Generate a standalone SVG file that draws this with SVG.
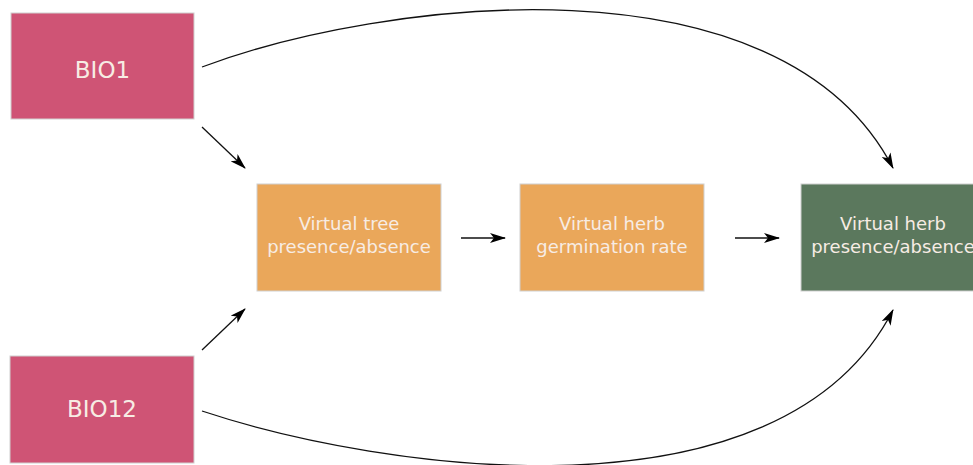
<svg xmlns="http://www.w3.org/2000/svg" width="973" height="465" viewBox="0 0 973 465">
<style>
.node rect{stroke:#d0d0d0;stroke-width:1}
.bio rect{fill:#cf5475}
.mid rect{fill:#eaa75a}
.out rect{fill:#5b785d}
text{font-family:"DejaVu Sans",sans-serif;fill:#f7ece4;text-anchor:middle}
.big{font-size:23px}
.sm{font-size:18px}
.edge{fill:none;stroke:#111;stroke-width:1.3;marker-end:url(#ah)}
</style>
<defs>
<marker id="ah" viewBox="0 0 16 10" markerWidth="16" markerHeight="10" refX="15" refY="5" orient="auto" markerUnits="userSpaceOnUse">
<path d="M0,0 L16,5 L0,10 L4,5 z" fill="#000"/>
</marker>
</defs>
<rect width="973" height="465" fill="#fff"/>
<g id="connectors">
<path class="edge" d="M202,127 L245,168"/>
<path class="edge" d="M202,350 L245,309"/>
<path class="edge" d="M461,238 L505,238"/>
<path class="edge" d="M735,238 L779,238"/>
<path class="edge" d="M202,67 C380,0 780,-50 893,168"/>
<path class="edge" d="M202,411 C380,470 780,530 893,310"/>
</g>
<g id="bio1" class="node bio"><rect x="11" y="13" width="183" height="106"/><text class="big" x="102.5" y="78">BIO1</text></g>
<g id="bio12" class="node bio"><rect x="10" y="356" width="184" height="107"/><text class="big" x="102" y="417">BIO12</text></g>
<g id="tree" class="node mid"><rect x="257" y="184" width="184" height="107"/><text class="sm" x="349" y="230">Virtual tree</text><text class="sm" x="349" y="253">presence/absence</text></g>
<g id="germ" class="node mid"><rect x="520" y="184" width="184" height="107"/><text class="sm" x="612" y="230">Virtual herb</text><text class="sm" x="612" y="253">germination rate</text></g>
<g id="herb" class="node out"><rect x="801" y="184" width="184" height="107"/><text class="sm" x="893" y="230">Virtual herb</text><text class="sm" x="893" y="253">presence/absence</text></g>
</svg>
